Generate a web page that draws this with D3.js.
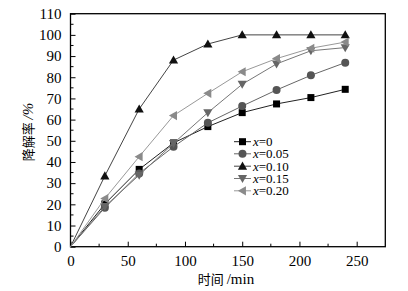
<!DOCTYPE html>
<html><head><meta charset="utf-8">
<script src="https://cdn.jsdelivr.net/npm/d3@7"></script>
<style>body{margin:0;background:#fff}svg{display:block}</style>
</head><body>
<svg id="c" width="408" height="291"></svg>
<script>
const times = [0, 30, 60, 90, 120, 150, 180, 210, 240];
const seriesNames = ["0", "0.05", "0.10", "0.15", "0.20"];
const s0   = [0, 20.2, 36.5, 49.0, 56.7, 63.3, 67.4, 70.4, 74.3];
const s005 = [0, 18.4, 34.6, 47.2, 58.5, 66.4, 74.0, 80.9, 86.9];
const s010 = [0, 33.4, 65.0, 88.1, 95.7, 100, 100, 100, 100];
const s015 = [0, 19.0, 33.8, 48.8, 63.3, 76.7, 86.3, 92.5, 94.0];
const s020 = [0, 22.7, 42.5, 61.9, 72.4, 82.6, 88.8, 93.7, 96.6];
const xTicks = [0, 50, 100, 150, 200, 250];
const yTicks = [0, 10, 20, 30, 40, 50, 60, 70, 80, 90, 100, 110];

const series = [
  {name: seriesNames[0], vals: s0,   sym: "square",   fill: "#000", line: "#222"},
  {name: seriesNames[1], vals: s005, sym: "circle",   fill: "#555", line: "#666"},
  {name: seriesNames[2], vals: s010, sym: "up",       fill: "#111", line: "#444"},
  {name: seriesNames[3], vals: s015, sym: "down",     fill: "#666", line: "#777"},
  {name: seriesNames[4], vals: s020, sym: "left",     fill: "#8a8a8a", line: "#999"}
];

const SERIF = '"Liberation Serif"';
const CJK = '"Noto Sans CJK SC"';
const svg = d3.select("#c");
const L = 70.5, R = 385.3, T = 13.7, B = 246.7;
const x = d3.scaleLinear().domain([0, 275]).range([L, R]);
const y = d3.scaleLinear().domain([0, 110]).range([B, T]);

// frame
svg.append("rect").attr("x", L).attr("y", T).attr("width", R - L).attr("height", B - T)
  .attr("fill", "none").attr("stroke", "#000").attr("stroke-width", 1.3);

// axes
const xAxis = d3.axisBottom(x).tickValues(xTicks).tickSizeInner(-5).tickSizeOuter(0).tickPadding(9);
const gx = svg.append("g").attr("transform", `translate(0,${B})`).call(xAxis);
const yAxis = d3.axisLeft(y).tickValues(yTicks).tickSizeInner(-5).tickSizeOuter(0).tickPadding(9);
const gy = svg.append("g").attr("transform", `translate(${L},0)`).call(yAxis);
[gx, gy].forEach(g => {
  g.select(".domain").remove();
  g.selectAll("line").attr("stroke", "#000").attr("stroke-width", 1);
  g.selectAll("text").style("font-family", SERIF).style("font-size", "15px").attr("fill", "#000");
});
// minor ticks
const xMinor = d3.range(25, 275, 50);
svg.append("g").selectAll("line").data(xMinor).join("line")
  .attr("x1", d => x(d)).attr("x2", d => x(d)).attr("y1", B).attr("y2", B - 3)
  .attr("stroke", "#000");
const yMinor = d3.range(5, 110, 10);
svg.append("g").selectAll("line").data(yMinor).join("line")
  .attr("x1", L).attr("x2", L + 3).attr("y1", d => y(d)).attr("y2", d => y(d))
  .attr("stroke", "#000");

// axis labels
const xl = svg.append("text").attr("x", 226).attr("y", 284).attr("text-anchor", "middle");
xl.append("tspan").style("font-family", CJK).style("font-size", "13px").text("时间 ");
xl.append("tspan").style("font-family", SERIF).style("font-size", "15px").text("/min");
const yl = svg.append("text").attr("transform", "translate(33,132) rotate(-90)").attr("text-anchor", "middle");
yl.append("tspan").style("font-family", CJK).style("font-size", "13px").text("降解率 ");
yl.append("tspan").style("font-family", SERIF).style("font-size", "15px").style("font-style", "italic").text("/%");

function drawSym(g, sym, cx, cy, fill) {
  if (sym === "square") {
    g.append("rect").attr("x", cx - 3.5).attr("y", cy - 3.5).attr("width", 7).attr("height", 7).attr("fill", fill);
  } else if (sym === "circle") {
    g.append("circle").attr("cx", cx).attr("cy", cy).attr("r", 4).attr("fill", fill);
  } else {
    const s = 4.6;
    let pts;
    if (sym === "up") pts = [[cx, cy - s], [cx - s, cy + s * 0.75], [cx + s, cy + s * 0.75]];
    else if (sym === "down") pts = [[cx, cy + s], [cx - s, cy - s * 0.75], [cx + s, cy - s * 0.75]];
    else pts = [[cx - s, cy], [cx + s * 0.75, cy - s], [cx + s * 0.75, cy + s]];
    g.append("polygon").attr("points", pts.map(p => p.join(",")).join(" ")).attr("fill", fill);
  }
}

const line = d3.line().x((d, i) => x(times[i])).y(d => y(d));
series.forEach(s => {
  const g = svg.append("g");
  g.append("path").datum(s.vals).attr("d", line).attr("fill", "none")
    .attr("stroke", s.line).attr("stroke-width", 1);
  s.vals.forEach((v, i) => { if (i > 0) drawSym(g, s.sym, x(times[i]), y(v), s.fill); });
});

// legend
const legY = [141.7, 153.8, 166.2, 178.5, 190.8];
series.forEach((s, i) => {
  const g = svg.append("g");
  g.append("line").attr("x1", 234).attr("x2", 251).attr("y1", legY[i]).attr("y2", legY[i])
    .attr("stroke", s.line).attr("stroke-width", 1);
  drawSym(g, s.sym, 242.5, legY[i], s.fill);
  const t = g.append("text").attr("x", 253).attr("y", legY[i] + 4.3)
    .style("font-family", SERIF).style("font-size", "13px").attr("fill", "#000");
  t.append("tspan").style("font-style", "italic").text("x");
  t.append("tspan").text("=" + s.name);
});
</script>
</body></html>
